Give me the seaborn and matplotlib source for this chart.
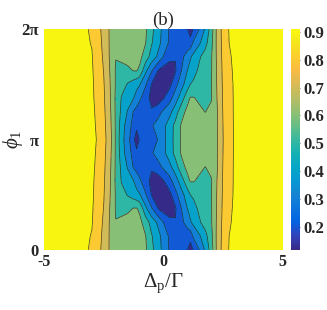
import numpy as np
import matplotlib
matplotlib.use('Agg')
import matplotlib.pyplot as plt
from matplotlib.colors import LinearSegmentedColormap, Normalize
from matplotlib.cm import ScalarMappable
import seaborn as sns

# probe detuning Delta_p/Gamma (columns)
delta = [-5, -3.5, -3, -2.75, -2.5, -2.25, -2, -1.75, -1.5, -1.25, -1.125, -1,
         -0.75, -0.5, -0.25, 0, 0.25, 0.5, 0.75, 1, 1.125, 1.25, 1.5, 1.75,
         2, 2.25, 2.5, 2.75, 3, 3.5, 5]
# phase phi_1 rows, in units of pi (0 .. pi, the map mirrors about pi)
phase_half = [0, 1/8, 2/8, 3/8, 4/8, 5/8, 6/8, 7/8, 1]

# values, one list per phase row
row0 = [0.94, 0.925, 0.889, 0.833, 0.766, 0.69, 0.68, 0.675, 0.67, 0.665, 0.66, 0.65,
        0.615, 0.526, 0.449, 0.371, 0.29, 0.265, 0.24, 0.2, 0.15, 0.205, 0.3, 0.414,
        0.55, 0.729, 0.837, 0.905, 0.92, 0.93, 0.94]
row1 = [0.94, 0.925, 0.896, 0.84, 0.775, 0.69, 0.68, 0.675, 0.67, 0.665, 0.66, 0.645,
        0.603, 0.508, 0.44, 0.36, 0.285, 0.26, 0.25, 0.235, 0.24, 0.314, 0.386, 0.467,
        0.571, 0.728, 0.832, 0.9, 0.92, 0.93, 0.94]
row2 = [0.94, 0.925, 0.905, 0.848, 0.785, 0.691, 0.603, 0.63, 0.645, 0.645, 0.64, 0.628,
        0.552, 0.46, 0.386, 0.297, 0.24, 0.205, 0.27, 0.35, 0.39, 0.425, 0.488, 0.54,
        0.589, 0.721, 0.826, 0.892, 0.915, 0.93, 0.94]
row3 = [0.94, 0.925, 0.91, 0.855, 0.796, 0.699, 0.59, 0.56, 0.575, 0.605, 0.605, 0.58,
        0.423, 0.31, 0.205, 0.15, 0.13, 0.19, 0.3, 0.4, 0.433, 0.466, 0.518, 0.555,
        0.59, 0.715, 0.821, 0.887, 0.912, 0.93, 0.94]
row4 = [0.94, 0.925, 0.915, 0.861, 0.805, 0.708, 0.59, 0.54, 0.492, 0.45, 0.429, 0.408,
        0.31, 0.195, 0.13, 0.115, 0.17, 0.265, 0.365, 0.449, 0.501, 0.515, 0.543, 0.571,
        0.598, 0.71, 0.816, 0.882, 0.91, 0.93, 0.94]
row5 = [0.94, 0.925, 0.915, 0.87, 0.812, 0.713, 0.583, 0.49, 0.445, 0.4, 0.358, 0.317,
        0.245, 0.17, 0.14, 0.195, 0.26, 0.355, 0.45, 0.57, 0.607, 0.607, 0.58, 0.57,
        0.59, 0.705, 0.811, 0.879, 0.91, 0.93, 0.94]
row6 = [0.94, 0.925, 0.92, 0.877, 0.819, 0.723, 0.585, 0.474, 0.392, 0.29, 0.265, 0.245,
        0.22, 0.212, 0.26, 0.317, 0.372, 0.45, 0.565, 0.625, 0.635, 0.64, 0.625, 0.598,
        0.63, 0.695, 0.808, 0.878, 0.91, 0.93, 0.94]
row7 = [0.94, 0.925, 0.92, 0.886, 0.826, 0.733, 0.586, 0.446, 0.352, 0.26, 0.22, 0.23,
        0.25, 0.29, 0.334, 0.378, 0.443, 0.532, 0.61, 0.64, 0.648, 0.655, 0.66, 0.66,
        0.665, 0.697, 0.803, 0.876, 0.91, 0.93, 0.94]
row8 = [0.94, 0.925, 0.92, 0.893, 0.833, 0.745, 0.586, 0.432, 0.342, 0.21, 0.16, 0.205,
        0.24, 0.27, 0.3, 0.371, 0.453, 0.531, 0.61, 0.64, 0.65, 0.655, 0.665, 0.67,
        0.675, 0.695, 0.8, 0.876, 0.91, 0.93, 0.94]

levels = [0.0, 0.2, 0.3, 0.4, 0.5, 0.6, 0.7, 0.8, 0.9, 1.0]
cbar_ticks = [0.2, 0.3, 0.4, 0.5, 0.6, 0.7, 0.8, 0.9]

# mirror the half map about phi_1 = pi
half = np.array([row0, row1, row2, row3, row4, row5, row6, row7, row8])
z = np.vstack([half, half[-2::-1]])
phi = np.concatenate([phase_half, 2 - np.array(phase_half[-2::-1])]) * np.pi

# parula-like colormap
parula = LinearSegmentedColormap.from_list('parula', [
    (0.2081, 0.1663, 0.5292), (0.1959, 0.2645, 0.7279), (0.0117, 0.3875, 0.8820),
    (0.0498, 0.4586, 0.8641), (0.0793, 0.5200, 0.8312), (0.0343, 0.5966, 0.8199),
    (0.0228, 0.6535, 0.7768), (0.0843, 0.6928, 0.7062), (0.2178, 0.7250, 0.6193),
    (0.3953, 0.7459, 0.5244), (0.5709, 0.7485, 0.4494), (0.7184, 0.7411, 0.3905),
    (0.8507, 0.7299, 0.3360), (0.9739, 0.7314, 0.2666), (0.9880, 0.8066, 0.1794),
    (0.9588, 0.8949, 0.1132), (0.9763, 0.9831, 0.0538)])
norm = Normalize(vmin=0.116, vmax=0.91)
# each band takes the colour of its lower level (matlab style)
band_colors = [parula(norm(max(l, 0.116))) for l in levels[:-1]]

sns.set_theme(style='white')
plt.rcParams['font.family'] = ['Liberation Serif', 'DejaVu Serif']
plt.rcParams['mathtext.fontset'] = 'custom'
plt.rcParams['mathtext.rm'] = 'Liberation Serif'
plt.rcParams['mathtext.it'] = 'Liberation Serif:italic'
plt.rcParams['axes.unicode_minus'] = False

fig = plt.figure(figsize=(3.27, 3.10), dpi=100)
ax = fig.add_axes([0.135, 0.194, 0.730, 0.712])
cax = fig.add_axes([0.890, 0.194, 0.028, 0.712])

ax.contourf(delta, phi, z, levels=levels, colors=band_colors)
ax.contour(delta, phi, z, levels=levels[1:-1], colors='#222222', linewidths=0.5, alpha=0.85)
ax.set_xlim(-5, 5)
ax.set_ylim(0, 2 * np.pi)
ax.set_xticks([-5, 0, 5])
ax.set_xticklabels(['-5', '0', '5'], fontweight='bold', fontsize=11.5)
ax.set_yticks([0, np.pi, 2 * np.pi])
ax.set_yticklabels(['0', 'π', '2π'], fontweight='bold', fontsize=12)
ax.tick_params(axis='x', length=0, pad=3)
ax.tick_params(axis='y', length=0, pad=4)
for s in ax.spines.values():
    s.set_visible(False)
ax.set_title('(b)', fontsize=13.5, pad=3)
ax.set_xlabel(r'$\Delta_{\rm p}/\Gamma$', fontsize=15, labelpad=1)
ax.set_ylabel(r'$\phi_1$', fontsize=15, labelpad=-3)

cb = fig.colorbar(ScalarMappable(norm=norm, cmap=parula), cax=cax, ticks=cbar_ticks)
cb.outline.set_visible(False)
cb.ax.tick_params(direction='in', length=2, width=0.5, pad=2)
for t in cb.ax.get_yticklabels():
    t.set_fontweight('bold')
    t.set_fontsize(12)

fig.savefig('out.png', dpi=100)
